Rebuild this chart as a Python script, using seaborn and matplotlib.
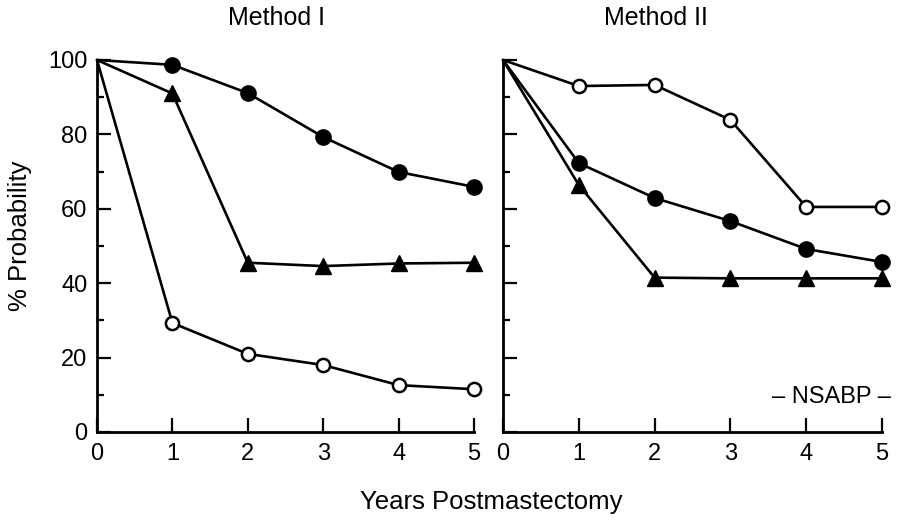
import matplotlib
matplotlib.use("Agg")
import matplotlib.pyplot as plt
import seaborn as sns
import pandas as pd
from matplotlib.ticker import MultipleLocator

sns.set_theme(style="white")
plt.rcParams['font.family'] = ['Liberation Sans', 'DejaVu Sans']

years = [0, 1, 2, 3, 4, 5]

# Method I
m1_filled = [100, 98.7, 91.1, 79.3, 69.9, 65.9]
m1_triangle = [100, 91, 45.5, 44.6, 45.3, 45.5]
m1_open = [100, 29.3, 21, 18, 12.6, 11.5]

# Method II
m2_open = [100, 93, 93.3, 83.9, 60.5, 60.5]
m2_filled = [100, 72.3, 62.9, 56.7, 49.2, 45.7]
m2_triangle = [100, 66.4, 41.5, 41.3, 41.3, 41.3]

titles = ["Method I", "Method II"]
xlabel = "Years Postmastectomy"
ylabel = "% Probability"
note = "– NSABP –"

fig = plt.figure(figsize=(8.98, 5.22), dpi=100)
ax1 = fig.add_axes([97/898, 1-432/522, (474-97)/898, (432-60)/522])
ax2 = fig.add_axes([503/898, 1-432/522, (882-503)/898, (432-60)/522])

styles = {
    "filled": dict(marker='o', markersize=10.5, markerfacecolor='black', markeredgecolor='black', markeredgewidth=1.5),
    "open": dict(marker='o', markersize=9.5, markerfacecolor='white', markeredgecolor='black', markeredgewidth=1.8),
    "triangle": dict(marker='^', markersize=11.5, markerfacecolor='black', markeredgecolor='black', markeredgewidth=1.0),
}

panels = [
    (ax1, [("filled", m1_filled), ("triangle", m1_triangle), ("open", m1_open)]),
    (ax2, [("open", m2_open), ("filled", m2_filled), ("triangle", m2_triangle)]),
]

for i, (ax, series) in enumerate(panels):
    for kind, vals in series:
        df = pd.DataFrame({"year": years, "p": vals})
        sns.lineplot(data=df, x="year", y="p", ax=ax, color='black', linewidth=1.9,
                     clip_on=False, zorder=3, markevery=list(range(1, len(years))),
                     **styles[kind])
    ax.set_xlim(0, 5)
    ax.set_ylim(0, 100)
    ax.set_xticks([0, 1, 2, 3, 4, 5])
    ax.set_yticks([0, 20, 40, 60, 80, 100])
    ax.yaxis.set_minor_locator(MultipleLocator(10))
    ax.tick_params(axis='both', which='major', direction='in', length=10, width=1.6,
                   color='black', labelsize=17, labelcolor='black')
    ax.tick_params(axis='y', which='minor', direction='in', length=5, width=1.6, color='black', left=True)
    ax.tick_params(axis='x', which='major', pad=8, bottom=True)
    ax.tick_params(axis='y', which='major', pad=7, left=True)
    for s in ['top', 'right']:
        ax.spines[s].set_visible(False)
    for s in ['left', 'bottom']:
        ax.spines[s].set_color('black')
        ax.spines[s].set_linewidth(2.0)
    ax.set_xlabel("")
    ax.set_ylabel("")
    ax.set_facecolor('white')

ax2.set_yticklabels([])
fig.text(277/898, 1-18/522, titles[0], ha='center', va='center', fontsize=18, color='black')
fig.text(656/898, 1-18/522, titles[1], ha='center', va='center', fontsize=18, color='black')
fig.text(20/898, 1-236/522, ylabel, ha='center', va='center', rotation=90, fontsize=18.5, color='black')
fig.text(491/898, 1-502/522, xlabel, ha='center', va='center', fontsize=18.5, color='black')
fig.text(832/898, 1-397/522, note, ha='center', va='center', fontsize=17, color='black')

fig.savefig("out.png", dpi=100, facecolor='white')
